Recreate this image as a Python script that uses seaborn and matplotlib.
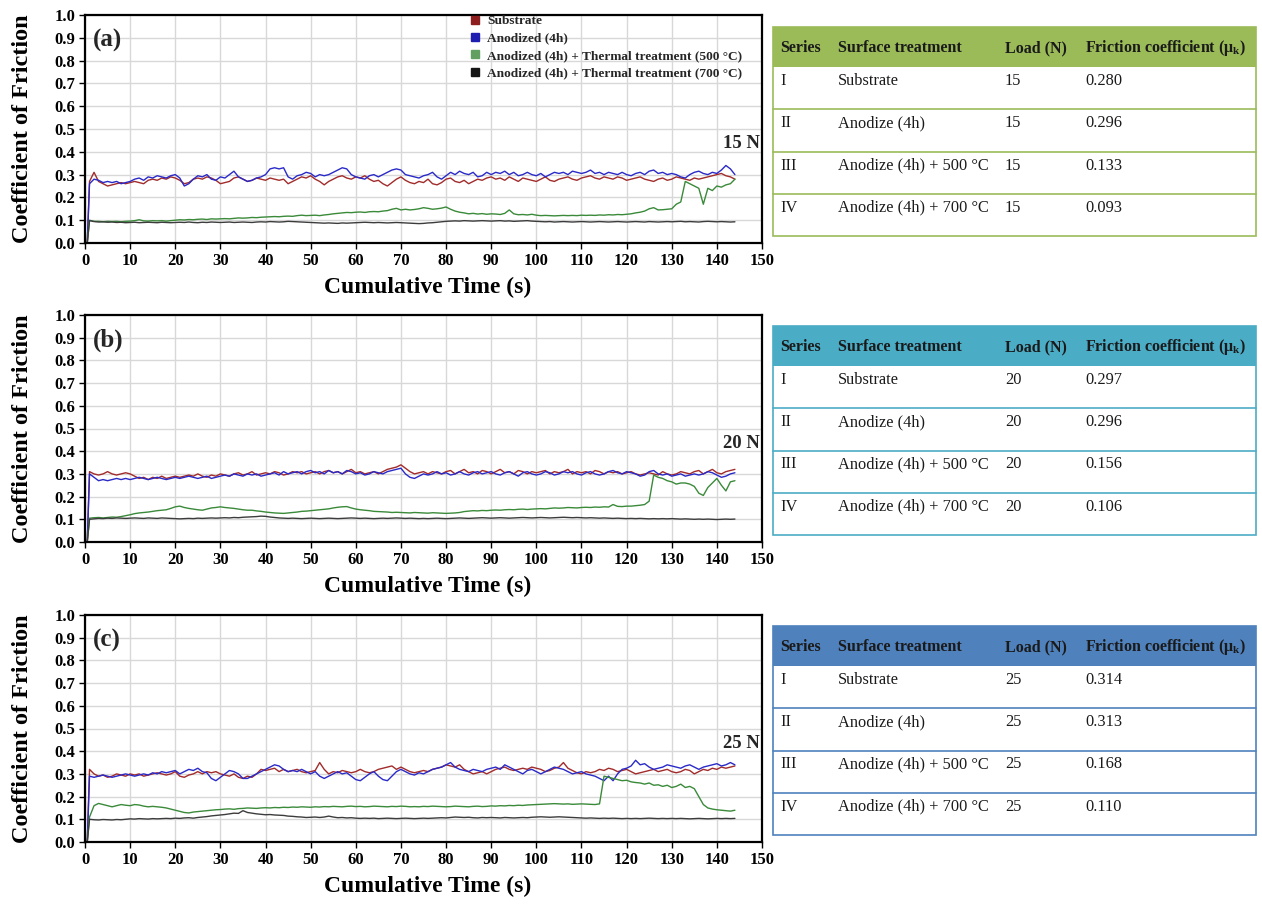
import matplotlib
matplotlib.use("Agg")
import matplotlib.pyplot as plt
from matplotlib.lines import Line2D
from matplotlib.patches import Rectangle
import pandas as pd
import seaborn as sns

# ---------------------------------------------------------------- data
time_s = [0.5] + list(range(1, 145))

series_names = [
    "Substrate",
    "Anodized (4h)",
    "Anodized (4h) + Thermal treatment (500 \u00b0C)",
    "Anodized (4h) + Thermal treatment (700 \u00b0C)",
]

# ---- 15 N
substrate_15N = [0.0,
    0.27, 0.31, 0.27, 0.26, 0.25, 0.255, 0.26, 0.265, 0.26, 0.265,
    0.27, 0.265, 0.26, 0.275, 0.28, 0.275, 0.285, 0.28, 0.29, 0.285,
    0.275, 0.26, 0.265, 0.28, 0.285, 0.28, 0.29, 0.285, 0.275, 0.26,
    0.265, 0.27, 0.285, 0.29, 0.28, 0.27, 0.275, 0.285, 0.28, 0.275,
    0.285, 0.28, 0.275, 0.28, 0.26, 0.27, 0.28, 0.29, 0.285, 0.295,
    0.28, 0.27, 0.255, 0.27, 0.28, 0.29, 0.295, 0.285, 0.28, 0.29,
    0.285, 0.295, 0.28, 0.27, 0.275, 0.26, 0.25, 0.265, 0.28, 0.29,
    0.275, 0.265, 0.26, 0.27, 0.265, 0.28, 0.26, 0.255, 0.265, 0.28,
    0.285, 0.27, 0.265, 0.275, 0.26, 0.27, 0.28, 0.275, 0.285, 0.29,
    0.28, 0.285, 0.275, 0.29, 0.28, 0.27, 0.285, 0.28, 0.275, 0.27,
    0.28, 0.29, 0.275, 0.27, 0.28, 0.285, 0.29, 0.28, 0.275, 0.285,
    0.29, 0.295, 0.285, 0.28, 0.29, 0.285, 0.28, 0.29, 0.285, 0.275,
    0.28, 0.285, 0.29, 0.28, 0.275, 0.27, 0.28, 0.285, 0.275, 0.28,
    0.29, 0.285, 0.28, 0.275, 0.285, 0.28, 0.285, 0.29, 0.295, 0.30,
    0.305, 0.295, 0.29, 0.28]
anodized_15N = [0.0,
    0.26, 0.28, 0.275, 0.265, 0.27, 0.265, 0.27, 0.26, 0.265, 0.27,
    0.28, 0.285, 0.275, 0.29, 0.285, 0.295, 0.29, 0.285, 0.295, 0.30,
    0.285, 0.25, 0.26, 0.28, 0.295, 0.29, 0.30, 0.28, 0.275, 0.29,
    0.285, 0.30, 0.315, 0.29, 0.28, 0.27, 0.275, 0.285, 0.29, 0.30,
    0.325, 0.33, 0.325, 0.33, 0.29, 0.28, 0.295, 0.30, 0.31, 0.305,
    0.29, 0.30, 0.295, 0.30, 0.31, 0.32, 0.33, 0.325, 0.30, 0.29,
    0.285, 0.28, 0.295, 0.30, 0.29, 0.30, 0.31, 0.32, 0.325, 0.32,
    0.30, 0.295, 0.29, 0.285, 0.295, 0.30, 0.31, 0.29, 0.28, 0.295,
    0.31, 0.30, 0.315, 0.305, 0.30, 0.31, 0.29, 0.295, 0.31, 0.30,
    0.31, 0.305, 0.315, 0.30, 0.31, 0.295, 0.30, 0.31, 0.30, 0.295,
    0.305, 0.29, 0.30, 0.31, 0.305, 0.31, 0.30, 0.315, 0.31, 0.305,
    0.31, 0.32, 0.305, 0.31, 0.30, 0.31, 0.305, 0.30, 0.31, 0.30,
    0.295, 0.305, 0.31, 0.30, 0.315, 0.32, 0.305, 0.31, 0.30, 0.305,
    0.30, 0.29, 0.285, 0.30, 0.31, 0.315, 0.305, 0.30, 0.31, 0.305,
    0.32, 0.34, 0.325, 0.30]
heat500_15N = [0.0,
    0.100, 0.095, 0.095, 0.093, 0.095, 0.094, 0.095, 0.093, 0.095, 0.096,
    0.098, 0.102, 0.097, 0.096, 0.098, 0.097, 0.098, 0.096, 0.098, 0.100,
    0.102, 0.101, 0.103, 0.102, 0.104, 0.105, 0.103, 0.106, 0.105, 0.106,
    0.107, 0.106, 0.108, 0.110, 0.109, 0.110, 0.112, 0.111, 0.113, 0.114,
    0.115, 0.116, 0.115, 0.117, 0.118, 0.117, 0.120, 0.122, 0.120, 0.121,
    0.122, 0.120, 0.123, 0.125, 0.128, 0.130, 0.132, 0.134, 0.133, 0.135,
    0.136, 0.134, 0.137, 0.138, 0.137, 0.140, 0.142, 0.148, 0.152, 0.145,
    0.148, 0.145, 0.147, 0.150, 0.155, 0.152, 0.148, 0.150, 0.153, 0.158,
    0.148, 0.140, 0.135, 0.132, 0.128, 0.130, 0.127, 0.129, 0.126, 0.128,
    0.127, 0.125, 0.130, 0.145, 0.128, 0.124, 0.125, 0.123, 0.126, 0.122,
    0.120, 0.121, 0.120, 0.119, 0.120, 0.121, 0.120, 0.121, 0.120, 0.122,
    0.121, 0.122, 0.121, 0.123, 0.122, 0.124, 0.123, 0.125, 0.124, 0.126,
    0.128, 0.132, 0.135, 0.140, 0.150, 0.155, 0.145, 0.146, 0.148, 0.150,
    0.170, 0.180, 0.270, 0.260, 0.250, 0.240, 0.170, 0.240, 0.230, 0.250,
    0.245, 0.255, 0.260, 0.280]
heat700_15N = [0.0,
    0.098, 0.094, 0.092, 0.093, 0.091, 0.092, 0.090, 0.091, 0.089, 0.090,
    0.091, 0.089, 0.090, 0.091, 0.090, 0.089, 0.091, 0.090, 0.089, 0.090,
    0.091, 0.090, 0.092, 0.090, 0.089, 0.091, 0.090, 0.092, 0.091, 0.090,
    0.091, 0.092, 0.090, 0.091, 0.092, 0.091, 0.090, 0.092, 0.093, 0.092,
    0.094, 0.093, 0.092, 0.093, 0.095, 0.094, 0.093, 0.092, 0.091, 0.090,
    0.089, 0.088, 0.087, 0.088, 0.087, 0.086, 0.088, 0.087, 0.088, 0.089,
    0.090, 0.091, 0.090, 0.089, 0.090, 0.089, 0.088, 0.089, 0.090, 0.089,
    0.088, 0.087, 0.086, 0.085, 0.086, 0.088, 0.089, 0.091, 0.093, 0.095,
    0.096, 0.097, 0.096, 0.098, 0.097, 0.096, 0.097, 0.098, 0.097, 0.096,
    0.097, 0.098, 0.096, 0.097, 0.095, 0.096, 0.097, 0.098, 0.096, 0.095,
    0.094, 0.093, 0.094, 0.092, 0.093, 0.094, 0.093, 0.092, 0.093, 0.094,
    0.093, 0.092, 0.093, 0.094, 0.093, 0.092, 0.093, 0.094, 0.093, 0.092,
    0.093, 0.094, 0.093, 0.092, 0.094, 0.093, 0.092, 0.093, 0.094, 0.093,
    0.094, 0.095, 0.093, 0.094, 0.093, 0.092, 0.094, 0.095, 0.094, 0.093,
    0.094, 0.093, 0.092, 0.093]

# ---- 20 N
substrate_20N = [0.0,
    0.31, 0.30, 0.295, 0.30, 0.31, 0.30, 0.295, 0.30, 0.305, 0.30,
    0.29, 0.28, 0.285, 0.275, 0.285, 0.28, 0.29, 0.28, 0.285, 0.29,
    0.285, 0.29, 0.295, 0.29, 0.30, 0.29, 0.285, 0.295, 0.29, 0.30,
    0.295, 0.29, 0.30, 0.305, 0.295, 0.30, 0.31, 0.295, 0.30, 0.305,
    0.30, 0.31, 0.305, 0.295, 0.30, 0.31, 0.305, 0.31, 0.30, 0.305,
    0.31, 0.30, 0.31, 0.315, 0.305, 0.31, 0.30, 0.31, 0.32, 0.305,
    0.31, 0.30, 0.305, 0.31, 0.30, 0.31, 0.32, 0.325, 0.33, 0.34,
    0.325, 0.31, 0.30, 0.305, 0.31, 0.30, 0.31, 0.305, 0.30, 0.31,
    0.315, 0.30, 0.31, 0.32, 0.305, 0.31, 0.30, 0.315, 0.31, 0.30,
    0.31, 0.32, 0.305, 0.31, 0.30, 0.315, 0.31, 0.30, 0.31, 0.305,
    0.31, 0.315, 0.30, 0.31, 0.305, 0.31, 0.32, 0.30, 0.31, 0.305,
    0.31, 0.30, 0.315, 0.31, 0.30, 0.31, 0.305, 0.31, 0.30, 0.305,
    0.31, 0.30, 0.295, 0.30, 0.305, 0.30, 0.295, 0.31, 0.30, 0.295,
    0.30, 0.31, 0.305, 0.30, 0.31, 0.315, 0.30, 0.31, 0.32, 0.305,
    0.30, 0.31, 0.315, 0.32]
anodized_20N = [0.0,
    0.30, 0.285, 0.27, 0.275, 0.27, 0.275, 0.28, 0.275, 0.28, 0.275,
    0.28, 0.285, 0.28, 0.275, 0.28, 0.285, 0.28, 0.275, 0.28, 0.285,
    0.28, 0.285, 0.29, 0.285, 0.28, 0.285, 0.29, 0.28, 0.285, 0.29,
    0.295, 0.29, 0.30, 0.295, 0.29, 0.30, 0.295, 0.30, 0.29, 0.295,
    0.30, 0.305, 0.295, 0.31, 0.30, 0.305, 0.31, 0.30, 0.31, 0.315,
    0.305, 0.31, 0.30, 0.315, 0.305, 0.31, 0.30, 0.315, 0.31, 0.30,
    0.305, 0.295, 0.30, 0.31, 0.305, 0.30, 0.31, 0.315, 0.32, 0.325,
    0.30, 0.285, 0.28, 0.29, 0.30, 0.295, 0.30, 0.31, 0.30, 0.305,
    0.295, 0.30, 0.31, 0.30, 0.295, 0.305, 0.31, 0.30, 0.305, 0.31,
    0.30, 0.295, 0.305, 0.31, 0.30, 0.29, 0.305, 0.31, 0.30, 0.295,
    0.30, 0.31, 0.305, 0.295, 0.30, 0.31, 0.305, 0.31, 0.30, 0.295,
    0.305, 0.31, 0.30, 0.295, 0.30, 0.31, 0.315, 0.305, 0.30, 0.31,
    0.305, 0.30, 0.29, 0.295, 0.31, 0.315, 0.30, 0.295, 0.30, 0.29,
    0.295, 0.30, 0.29, 0.295, 0.30, 0.295, 0.30, 0.31, 0.305, 0.295,
    0.285, 0.29, 0.30, 0.305]
heat500_20N = [0.0,
    0.105, 0.107, 0.108, 0.106, 0.108, 0.110, 0.109, 0.112, 0.116, 0.120,
    0.125, 0.128, 0.130, 0.132, 0.135, 0.138, 0.140, 0.142, 0.148, 0.155,
    0.158, 0.152, 0.148, 0.145, 0.142, 0.140, 0.145, 0.150, 0.152, 0.155,
    0.152, 0.150, 0.148, 0.145, 0.142, 0.140, 0.140, 0.137, 0.135, 0.132,
    0.130, 0.128, 0.127, 0.126, 0.128, 0.130, 0.132, 0.135, 0.136, 0.138,
    0.140, 0.142, 0.144, 0.146, 0.150, 0.153, 0.155, 0.156, 0.150, 0.145,
    0.142, 0.140, 0.138, 0.135, 0.134, 0.133, 0.132, 0.130, 0.131, 0.130,
    0.129, 0.128, 0.130, 0.129, 0.128, 0.127, 0.129, 0.128, 0.127, 0.126,
    0.127, 0.128, 0.130, 0.134, 0.136, 0.138, 0.137, 0.139, 0.138, 0.140,
    0.141, 0.140, 0.142, 0.143, 0.142, 0.144, 0.145, 0.143, 0.145, 0.146,
    0.147, 0.146, 0.148, 0.150, 0.149, 0.150, 0.152, 0.151, 0.150, 0.152,
    0.153, 0.152, 0.154, 0.153, 0.155, 0.154, 0.165, 0.157, 0.156, 0.158,
    0.158, 0.160, 0.162, 0.165, 0.180, 0.295, 0.285, 0.280, 0.270, 0.265,
    0.255, 0.260, 0.260, 0.255, 0.245, 0.215, 0.205, 0.240, 0.260, 0.280,
    0.250, 0.225, 0.265, 0.270]
heat700_20N = [0.0,
    0.100, 0.102, 0.104, 0.103, 0.105, 0.104, 0.106, 0.105, 0.104, 0.105,
    0.106, 0.105, 0.104, 0.106, 0.105, 0.104, 0.106, 0.105, 0.104, 0.103,
    0.102, 0.103, 0.104, 0.103, 0.105, 0.104, 0.105, 0.106, 0.105, 0.106,
    0.107, 0.106, 0.108, 0.107, 0.109, 0.110, 0.111, 0.112, 0.114, 0.113,
    0.110, 0.108, 0.106, 0.105, 0.104, 0.105, 0.104, 0.103, 0.104, 0.105,
    0.104, 0.103, 0.104, 0.105, 0.104, 0.103, 0.104, 0.105, 0.106, 0.105,
    0.104, 0.105, 0.104, 0.103, 0.104, 0.105, 0.104, 0.105, 0.106, 0.105,
    0.104, 0.105, 0.104, 0.103, 0.104, 0.103, 0.104, 0.105, 0.104, 0.103,
    0.104, 0.105, 0.106, 0.105, 0.104, 0.105, 0.106, 0.107, 0.106, 0.105,
    0.106, 0.107, 0.106, 0.105, 0.106, 0.107, 0.108, 0.107, 0.106, 0.107,
    0.108, 0.107, 0.106, 0.107, 0.108, 0.109, 0.108, 0.107, 0.108, 0.107,
    0.106, 0.107, 0.106, 0.105, 0.106, 0.105, 0.104, 0.105, 0.104, 0.103,
    0.104, 0.103, 0.104, 0.103, 0.102, 0.103, 0.102, 0.103, 0.102, 0.103,
    0.102, 0.101, 0.102, 0.101, 0.100, 0.101, 0.100, 0.101, 0.100, 0.099,
    0.100, 0.101, 0.100, 0.101]

# ---- 25 N
substrate_25N = [0.0,
    0.32, 0.30, 0.29, 0.295, 0.285, 0.29, 0.30, 0.295, 0.29, 0.30,
    0.295, 0.30, 0.29, 0.295, 0.30, 0.305, 0.30, 0.295, 0.30, 0.31,
    0.29, 0.285, 0.295, 0.30, 0.31, 0.30, 0.31, 0.305, 0.31, 0.30,
    0.295, 0.29, 0.30, 0.285, 0.28, 0.29, 0.285, 0.30, 0.32, 0.315,
    0.32, 0.325, 0.31, 0.32, 0.31, 0.315, 0.32, 0.31, 0.305, 0.31,
    0.315, 0.35, 0.32, 0.30, 0.31, 0.305, 0.315, 0.31, 0.305, 0.31,
    0.32, 0.31, 0.305, 0.31, 0.32, 0.325, 0.33, 0.335, 0.32, 0.33,
    0.32, 0.31, 0.305, 0.31, 0.315, 0.31, 0.32, 0.325, 0.33, 0.34,
    0.335, 0.33, 0.34, 0.32, 0.31, 0.30, 0.305, 0.31, 0.30, 0.31,
    0.32, 0.325, 0.33, 0.32, 0.315, 0.32, 0.325, 0.32, 0.33, 0.325,
    0.32, 0.31, 0.315, 0.325, 0.33, 0.35, 0.325, 0.315, 0.305, 0.30,
    0.31, 0.305, 0.31, 0.32, 0.315, 0.325, 0.32, 0.31, 0.315, 0.32,
    0.31, 0.30, 0.305, 0.31, 0.315, 0.32, 0.31, 0.315, 0.32, 0.31,
    0.305, 0.31, 0.32, 0.315, 0.30, 0.31, 0.32, 0.315, 0.325, 0.32,
    0.33, 0.325, 0.33, 0.335]
anodized_25N = [0.0,
    0.29, 0.285, 0.29, 0.295, 0.29, 0.285, 0.29, 0.295, 0.30, 0.295,
    0.29, 0.295, 0.30, 0.295, 0.305, 0.30, 0.31, 0.305, 0.31, 0.315,
    0.30, 0.31, 0.32, 0.315, 0.325, 0.31, 0.305, 0.28, 0.27, 0.285,
    0.30, 0.315, 0.31, 0.30, 0.28, 0.28, 0.29, 0.30, 0.31, 0.32,
    0.33, 0.34, 0.335, 0.32, 0.31, 0.315, 0.31, 0.32, 0.31, 0.30,
    0.31, 0.29, 0.28, 0.29, 0.30, 0.31, 0.30, 0.305, 0.29, 0.275,
    0.27, 0.285, 0.30, 0.31, 0.29, 0.275, 0.27, 0.29, 0.31, 0.32,
    0.31, 0.30, 0.295, 0.305, 0.30, 0.31, 0.32, 0.325, 0.33, 0.34,
    0.35, 0.33, 0.32, 0.315, 0.31, 0.32, 0.315, 0.31, 0.32, 0.325,
    0.33, 0.32, 0.34, 0.33, 0.32, 0.31, 0.30, 0.315, 0.32, 0.31,
    0.30, 0.31, 0.32, 0.33, 0.325, 0.32, 0.31, 0.30, 0.305, 0.31,
    0.30, 0.295, 0.29, 0.28, 0.27, 0.29, 0.27, 0.30, 0.32, 0.325,
    0.335, 0.36, 0.34, 0.345, 0.33, 0.32, 0.325, 0.33, 0.34, 0.335,
    0.33, 0.325, 0.335, 0.34, 0.33, 0.32, 0.33, 0.335, 0.34, 0.345,
    0.335, 0.34, 0.35, 0.34]
heat500_25N = [0.0,
    0.110, 0.160, 0.170, 0.165, 0.160, 0.155, 0.160, 0.165, 0.162, 0.160,
    0.165, 0.163, 0.158, 0.155, 0.157, 0.155, 0.153, 0.150, 0.145, 0.140,
    0.135, 0.130, 0.128, 0.132, 0.134, 0.136, 0.138, 0.140, 0.142, 0.143,
    0.145, 0.146, 0.144, 0.147, 0.148, 0.150, 0.149, 0.148, 0.150, 0.151,
    0.150, 0.152, 0.151, 0.153, 0.152, 0.154, 0.153, 0.155, 0.154, 0.153,
    0.155, 0.154, 0.156, 0.155, 0.157, 0.156, 0.155, 0.157, 0.158, 0.156,
    0.157, 0.155, 0.156, 0.158, 0.157, 0.156, 0.155, 0.157, 0.156, 0.158,
    0.157, 0.155, 0.156, 0.155, 0.157, 0.156, 0.158, 0.157, 0.156, 0.155,
    0.156, 0.158, 0.157, 0.156, 0.155, 0.157, 0.158, 0.156, 0.157, 0.159,
    0.158, 0.160, 0.159, 0.161, 0.160, 0.162, 0.161, 0.163, 0.164, 0.165,
    0.166, 0.167, 0.168, 0.169, 0.168, 0.167, 0.168, 0.166, 0.167, 0.168,
    0.167, 0.166, 0.165, 0.168, 0.290, 0.285, 0.280, 0.275, 0.270, 0.272,
    0.265, 0.262, 0.260, 0.255, 0.260, 0.250, 0.252, 0.245, 0.250, 0.240,
    0.245, 0.255, 0.240, 0.245, 0.235, 0.200, 0.165, 0.150, 0.145, 0.142,
    0.140, 0.138, 0.136, 0.140]
heat700_25N = [0.0,
    0.100, 0.098, 0.097, 0.099, 0.098, 0.097, 0.099, 0.098, 0.100, 0.102,
    0.101, 0.103, 0.102, 0.101, 0.103, 0.102, 0.103, 0.104, 0.103, 0.105,
    0.104, 0.106, 0.107, 0.105, 0.108, 0.110, 0.112, 0.115, 0.117, 0.119,
    0.121, 0.124, 0.127, 0.126, 0.138, 0.130, 0.127, 0.124, 0.122, 0.120,
    0.121, 0.119, 0.118, 0.117, 0.114, 0.113, 0.111, 0.110, 0.108, 0.109,
    0.110, 0.108, 0.110, 0.114, 0.110, 0.107, 0.108, 0.106, 0.107, 0.105,
    0.104, 0.105, 0.104, 0.105, 0.103, 0.104, 0.105, 0.104, 0.103, 0.104,
    0.105, 0.104, 0.103, 0.104, 0.105, 0.104, 0.105, 0.106, 0.107, 0.106,
    0.108, 0.110, 0.109, 0.108, 0.109, 0.107, 0.106, 0.108, 0.107, 0.108,
    0.107, 0.106, 0.108, 0.107, 0.106, 0.107, 0.108, 0.107, 0.109, 0.110,
    0.111, 0.110, 0.109, 0.110, 0.111, 0.110, 0.109, 0.108, 0.107, 0.106,
    0.105, 0.106, 0.105, 0.104, 0.105, 0.104, 0.105, 0.104, 0.103, 0.104,
    0.103, 0.104, 0.103, 0.104, 0.105, 0.104, 0.103, 0.104, 0.103, 0.104,
    0.103, 0.104, 0.103, 0.102, 0.103, 0.104, 0.103, 0.102, 0.103, 0.104,
    0.103, 0.104, 0.103, 0.104]

panel_curves = {
    15: [substrate_15N, anodized_15N, heat500_15N, heat700_15N],
    20: [substrate_20N, anodized_20N, heat500_20N, heat700_20N],
    25: [substrate_25N, anodized_25N, heat500_25N, heat700_25N],
}
panel_letters = ["(a)", "(b)", "(c)"]
loads_N = [15, 20, 25]

# summary tables
table_header = ["Series", "Surface treatment", "Load (N)",
                "Friction coefficient (\u03bc$_{\\mathbf{k}}$)"]
series_ids = ["I", "II", "III", "IV"]
treatments = ["Substrate", "Anodize (4h)", "Anodize (4h) + 500 \u00b0C",
              "Anodize (4h) + 700 \u00b0C"]
mu_k = {
    15: ["0.280", "0.296", "0.133", "0.093"],
    20: ["0.297", "0.296", "0.156", "0.106"],
    25: ["0.314", "0.313", "0.168", "0.110"],
}

x_ticks = list(range(0, 151, 10))
y_ticks = [i / 10 for i in range(11)]

# ---------------------------------------------------------------- styles
line_colors = ["#A22B2B", "#2A2AC8", "#3A8A3A", "#3C3C3C"]
legend_colors = ["#8E1E1E", "#1E1EB0", "#62A062", "#151515"]
table_colors = ["#9BBB59", "#4BACC6", "#4F81BD"]

sns.set_theme(style="whitegrid")
plt.rcParams["font.family"] = ["Liberation Serif", "DejaVu Serif"]
plt.rcParams["mathtext.fontset"] = "custom"
plt.rcParams["mathtext.rm"] = "Liberation Serif"
plt.rcParams["mathtext.it"] = "Liberation Serif:italic"
plt.rcParams["mathtext.bf"] = "Liberation Serif:bold"

W, H = 1262, 906
fig = plt.figure(figsize=(W / 100, H / 100), dpi=100)
fig.patch.set_facecolor("white")


def px_rect(left, top, right, bottom):
    return [left / W, 1 - bottom / H, (right - left) / W, (bottom - top) / H]


panel_boxes = [(85, 15, 762, 243), (85, 315, 762, 542), (85, 615, 762, 842)]
table_tops = [27, 326, 626]

for k, load in enumerate(loads_N):
    ax = fig.add_axes(px_rect(*panel_boxes[k]))
    frames = []
    for name, vals in zip(series_names, panel_curves[load]):
        frames.append(pd.DataFrame({"time": time_s, "cof": vals, "series": name}))
    df = pd.concat(frames, ignore_index=True)
    sns.lineplot(data=df, x="time", y="cof", hue="series", hue_order=series_names,
                 palette=line_colors, estimator=None, linewidth=1.0,
                 legend=False, ax=ax)

    ax.set_xlim(0, 150)
    ax.set_ylim(0, 1.0)
    ax.set_xticks(x_ticks)
    ax.set_yticks(y_ticks)
    ax.set_yticklabels([f"{v:.1f}" for v in y_ticks])
    ax.set_facecolor("white")
    ax.grid(True, color="#D8D8D8", linewidth=1.0)
    for sp in ax.spines.values():
        sp.set_color("black")
        sp.set_linewidth(1.6)
    ax.tick_params(axis="both", direction="out", length=4, width=1.0,
                   color="black", labelsize=12, labelcolor="black", pad=3,
                   bottom=True, left=True)
    for lab in ax.get_xticklabels() + ax.get_yticklabels():
        lab.set_fontweight("bold")
    ax.set_xlabel("Cumulative Time (s)", fontsize=17, fontweight="bold",
                  color="black", va="top")
    ax.xaxis.set_label_coords(0.506, -0.15)
    ax.set_ylabel("Coefficient of Friction", fontsize=17.5, fontweight="bold",
                  color="black")
    ax.yaxis.set_label_coords(-0.077, 0.5)

    ax.text(0.012, 0.89, panel_letters[k], transform=ax.transAxes,
            fontsize=18, fontweight="bold", va="center", ha="left")
    ax.text(0.997, 0.435, f"{load} N", transform=ax.transAxes,
            fontsize=13.5, fontweight="bold", va="center", ha="right")

    if k == 0:
        handles = [Line2D([], [], marker="s", linestyle="none", markersize=5.5,
                          color=c) for c in legend_colors]
        ax.legend(handles, series_names, loc="upper left",
                  bbox_to_anchor=(470 / W, 1 - 15 / H),
                  bbox_transform=fig.transFigure, frameon=False,
                  prop={"weight": "bold", "size": 9.6}, handlelength=0.8,
                  handletextpad=0.5, labelspacing=0.38, borderaxespad=0,
                  borderpad=0)

    # summary table beside the panel
    top = table_tops[k]
    tw, th = 483, 209
    tax = fig.add_axes(px_rect(773, top, 773 + tw, top + th))
    tax.set_xlim(0, tw)
    tax.set_ylim(th, 0)
    tax.axis("off")
    col = table_colors[k]
    head_h = 40
    row_h = (th - head_h) / 4
    tax.add_patch(Rectangle((0, 0), tw, head_h, facecolor=col, edgecolor="none",
                            clip_on=False))
    tax.add_patch(Rectangle((0, 0), tw, th, facecolor="none", edgecolor=col,
                            linewidth=1.2, clip_on=False))
    for r in range(1, 4):
        y = head_h + r * row_h
        tax.plot([0, tw], [y, y], color=col, linewidth=1.2, clip_on=False)
    col_x = [7, 65, 232, 312]
    for cx, txt in zip(col_x, table_header):
        tax.text(cx, head_h / 2 + 1, txt, fontsize=11.5, fontweight="bold",
                 color="#1A1A1A", va="center", ha="left")
    for r in range(4):
        y = head_h + r * row_h + 14
        cells = [series_ids[r], treatments[r], str(load), mu_k[load][r]]
        for cx, txt in zip(col_x, cells):
            tax.text(cx, y, txt, fontsize=11.8, color="#1A1A1A",
                     va="center", ha="left")

fig.savefig("out.png", dpi=100, facecolor="white")
